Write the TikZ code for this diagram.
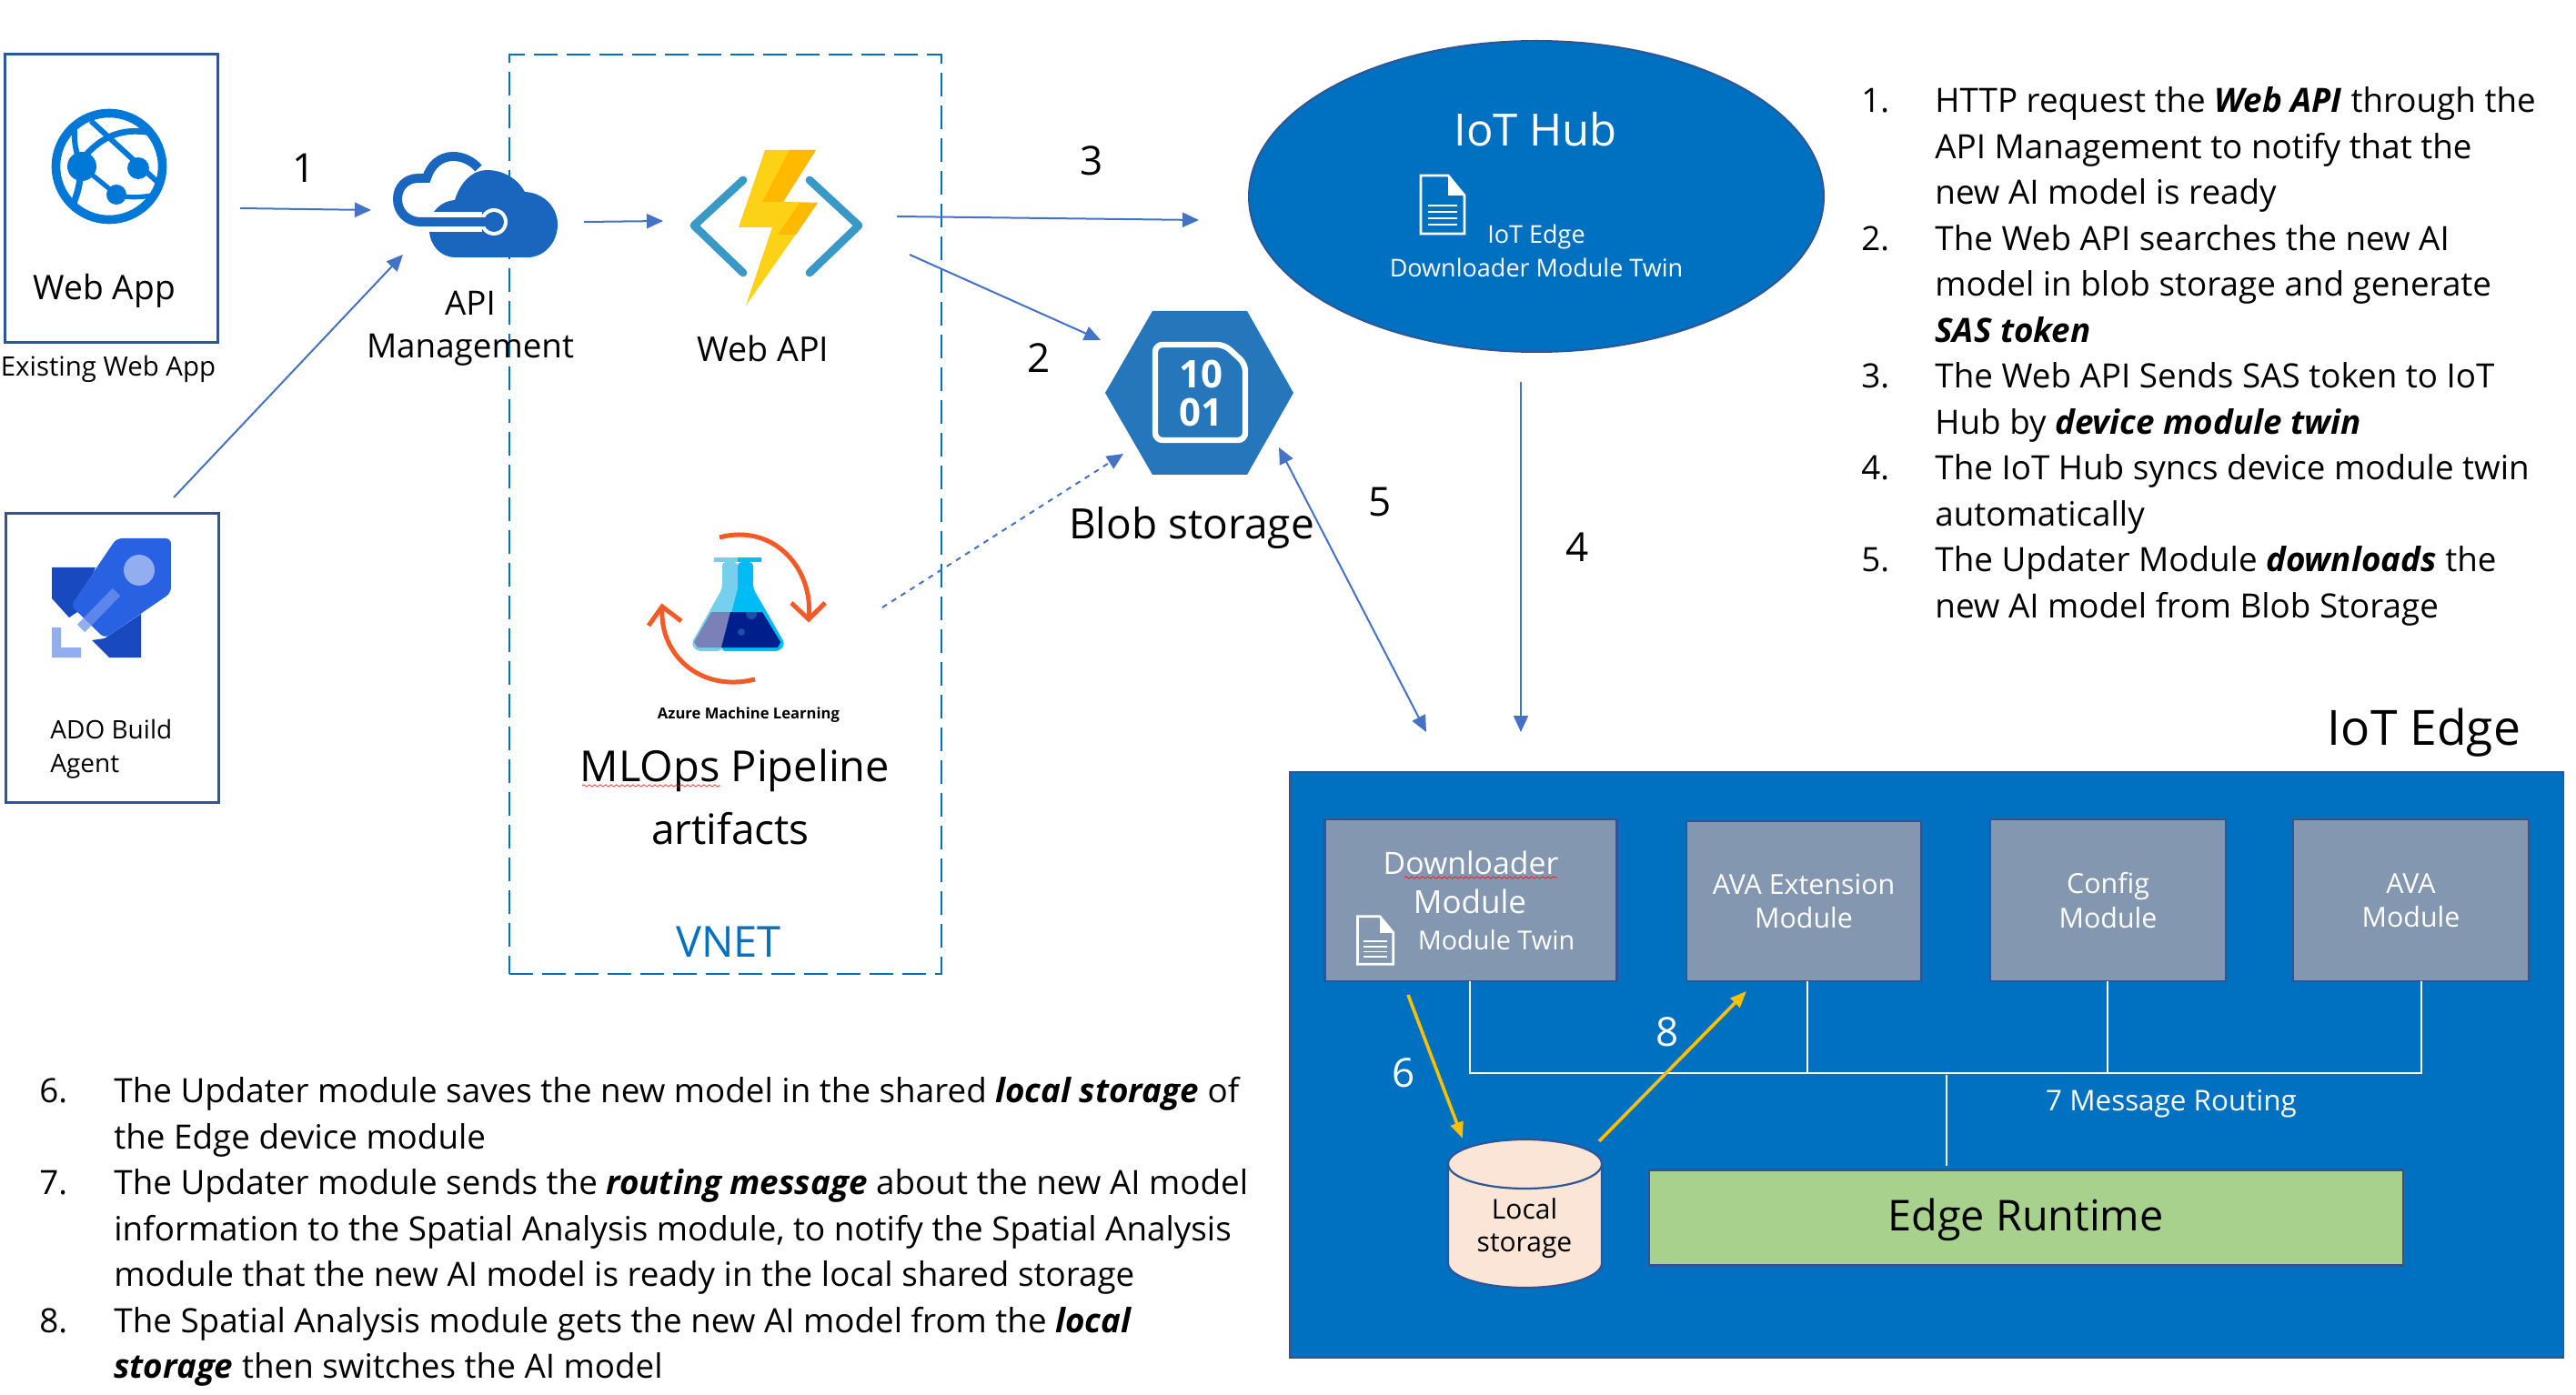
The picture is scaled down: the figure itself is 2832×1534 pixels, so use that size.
\documentclass[tikz,border=0pt]{standalone}
\usepackage{fontspec}
\setmainfont{Open Sans}
\usetikzlibrary{arrows.meta,shapes.geometric,decorations.pathmorphing}
\definecolor{azb}{HTML}{0070C0}
\definecolor{edgeb}{HTML}{2F5597}
\definecolor{arrowb}{HTML}{4472C4}
\definecolor{modg}{HTML}{8497B0}
\definecolor{runtime}{HTML}{A9D18E}
\definecolor{peach}{HTML}{FBE5D6}
\definecolor{goldy}{HTML}{FFC000}
\definecolor{webb}{HTML}{0078D7}
\definecolor{apib}{HTML}{1A66BF}
\definecolor{hexb}{HTML}{2576BB}
\definecolor{chev}{HTML}{3999C6}
\definecolor{orng}{HTML}{F25A28}
\definecolor{rockd}{HTML}{1949BE}
\definecolor{rockm}{HTML}{2862E2}
\definecolor{rockl}{HTML}{93AEF0}
\definecolor{rocks}{HTML}{5C86EC}
\definecolor{flaskl}{HTML}{76CFEC}
\definecolor{flaskm}{HTML}{00BCF2}
\definecolor{liqd}{HTML}{001E8C}
\definecolor{liql}{HTML}{7A80B8}
\definecolor{bubb}{HTML}{1B4FA8}
\newcommand{\tsize}[1]{\fontsize{#1}{#1}\selectfont}
\newcommand{\docglyph}[1]{%
  \begin{scope}[shift={(#1)},x=0.5pt,y=-0.5pt]
   \draw[white,line width=1.4pt,line join=miter] (0,0)--(30,0)--(48,22)--(48,64)--(0,64)--cycle;
   \fill[white] (30,0)--(48,22)--(30,22)--cycle;
   \foreach \yy in {32,39,46,53}{\fill[white] (8,\yy) rectangle (40,\yy+2.4);}
  \end{scope}}
\tikzset{
  x=0.5pt,y=-0.5pt,
  whitebox/.style={draw=edgeb,line width=1.5pt,fill=white,inner sep=0pt,outer sep=0pt},
  modbox/.style={draw=edgeb,line width=1.3pt,fill=modg,inner sep=0pt,outer sep=0pt,text=white,align=center},
  conn/.style={draw=arrowb,line width=1pt,-{Triangle[length=9pt,width=8pt]}},
  gold/.style={draw=goldy,line width=1.8pt,-{Triangle[length=9pt,width=7pt]}},
  bus/.style={draw=white,line width=1.2pt},
  lab/.style={inner sep=0pt,align=center,text=black},
  listl/.style={anchor=base west,inner sep=0pt,font=\tsize{18.4}},
  num/.style={lab,font=\tsize{22}},
  squig/.style={draw=red,line width=0.3pt,decorate,decoration={snake,amplitude=0.6pt,segment length=3pt}},
}
\begin{document}
\begin{tikzpicture}
\useasboundingbox (0,0) rectangle (2832,1534);
\fill[white] (0,0) rectangle (2832,1534);

% left boxes
\node[whitebox,minimum width=117pt,minimum height=158.5pt] (webapp) at (122,218.5) {};
\node[whitebox,minimum width=117pt,minimum height=158.5pt] (ado) at (123,723.5) {};
\node[lab,font=\tsize{18.6}] (webapplab) at (115,320) {Web App};
\node[lab,font=\tsize{14.7}] (existing) at (119,406) {Existing Web App};
\node[lab,font=\tsize{14},align=left,anchor=west] (adolab1) at (55,802) {ADO Build};
\node[lab,font=\tsize{14},align=left,anchor=west] (adolab2) at (55,843) {Agent};

% globe icon
\draw[webb,line width=4.8pt] (120,183) circle (58.5);
\draw[webb,line width=3pt] (100,133) -- (173,200);
\draw[webb,line width=3.4pt] (93,172) .. controls (112,150) and (135,140) .. (166,146);
\draw[webb,line width=3pt] (82,143) .. controls (81,160) and (85,172) .. (90,183);
\draw[webb,line width=3.6pt] (88,195) .. controls (87,208) and (83,218) .. (80,226);
\draw[webb,line width=2.6pt] (90,183) -- (128,214) .. controls (145,219) and (160,216) .. (172,214);
\fill[webb] (90,183) circle (16) (152,185) circle (12) (128,214) circle (11);

% rocket icon
\fill[rockd] (57,624)--(105,624)--(85,673)--(76,679)--(57,658)--cycle;
\fill[rockd] (155,675)--(155,723)--(120,723)--(101,704)--(115,702)--cycle;
\fill[rockm,rounded corners=3pt] (128,592)--(188,592)--(188,652)--(115,702)--(78,666)--cycle;
\fill[rockl] (153,627) circle (17);
\draw[rocks,line width=6pt] (128,651)--(96,684);
\draw[rockl,line width=6pt] (96,684)--(89,691);
\fill[rockl] (57,690)--(67,690)--(67,712)--(89,712)--(89,723)--(57,723)--cycle;

% VNET
\node[draw=azb,line width=1.4pt,dash pattern=on 13pt off 5pt,minimum width=237.5pt,minimum height=505.5pt,inner sep=0pt,outer sep=0pt] (vnet) at (797.5,565.5) {};
\node[lab,font=\tsize{23.5},text=azb] (vnetlab) at (801,1036) {VNET};

% API cloud icon
\draw[apib,line width=5pt] (526,185) .. controls (519,177) and (509,172) .. (498,172) .. controls (484,172) and (473,182) .. (469,196) -- (460,196) .. controls (446,196) and (437,206) .. (437,219) .. controls (437,233) and (448,244) .. (462,244) -- (535,244);
\fill[apib] (477,233) .. controls (483,225) and (490,221) .. (500,220) .. controls (506,200) and (520,187) .. (535,187) .. controls (555,187) and (570,198) .. (577,211) .. controls (598,212) and (613,228) .. (613,247) .. controls (613,267) and (598,283) .. (580,283) -- (500,283) .. controls (485,283) and (473,270) .. (472,255) -- (530,255) -- (530,233) -- cycle;
\fill[white] (476,233) rectangle (530,255);
\fill[white] (543,244) circle (15);
\draw[apib,line width=5pt] (462,244) -- (535,244);
\fill[apib] (543,244) circle (11);
\node[lab,font=\tsize{18.4}] (apilab1) at (517,333) {API};
\node[lab,font=\tsize{18.4}] (apilab2) at (517,385) {Management};

% function icon
\draw[chev,line width=4.4pt,line cap=round,line join=round] (817,198)--(763,248)--(817,300) (890,198)--(944,248)--(890,300);
\fill[color={rgb,255:red,252;green,209;blue,22}] (841,165)--(897,165)--(861,222)--(899,223)--(820,336)--(849,250)--(812,250)--cycle;
\fill[color={rgb,255:red,255;green,185;blue,0}] (868,165)--(897,165)--(861,222)--(899,223)--(875,258)--(855,258)--(880,222)--(838,222)--cycle;
\node[lab,font=\tsize{18.8}] (webapilab) at (839,383) {Web API};

% flask icon
\fill[flaskl] (785,613) rectangle (811,618);
\fill[flaskm] (811,613) rectangle (837,618);
\fill[flaskl,rounded corners=2pt] (794,618)--(811,618)--(811,647)--(793,716)--(766,716)--(760,708)--(794,647)--cycle;
\fill[flaskm,rounded corners=2pt] (811,618)--(828,618)--(828,647)--(863,708)--(857,716)--(793,716)--(811,647)--cycle;
\fill[liql] (782,673)--(803,673)--(793,712)--(767,712)--(763,706)--cycle;
\fill[liqd] (803,673)--(838,673)--(858,706)--(855,712)--(793,712)--cycle;
\fill[bubb] (815,695) circle (4);
\begin{scope}\clip (810,673) rectangle (840,690);\fill[bubb] (826,675) circle (6);\end{scope}
\draw[orng,line width=2.5pt] (791,591) .. controls (850,575) and (895,625) .. (889,680);
\draw[orng,line width=2.5pt] (870,663)--(889,681)--(907,663);
\draw[orng,line width=2.5pt] (830,747) .. controls (770,762) and (725,720) .. (728,669);
\draw[orng,line width=2.5pt] (713,688)--(728,667)--(749,683);
\node[lab,font=\bfseries\tsize{8.3}] (amllab) at (823,786) {Azure Machine Learning};
\node[lab,font=\tsize{23.5}] (mlops) at (808,847) {MLOps Pipeline};
\node[lab,font=\tsize{23}] (artifacts) at (803,911) {artifacts};
\draw[squig] (640,864) -- (792,864);

% Blob storage
\fill[hexb] (1267,342)--(1371,342)--(1422,432)--(1371,522)--(1267,522)--(1215,432)--cycle;
\draw[white,line width=3.2pt,rounded corners=4pt,line join=round] (1270,379)--(1346,379)--(1369,400)--(1369,484)--(1270,484)--cycle;
\node[lab,font=\bfseries\tsize{21},text=white] (blobnum1) at (1320,411) {10};
\node[lab,font=\bfseries\tsize{21},text=white] (blobnum2) at (1320,453) {01};
\node[lab,font=\tsize{23}] (bloblab) at (1310,581) {Blob storage};

% IoT Hub
\node[ellipse,draw=edgeb,line width=1pt,fill=azb,minimum width=316pt,minimum height=171pt,inner sep=0pt,outer sep=0pt] (hub) at (1689,216) {};
\node[lab,font=\tsize{24.5},text=white] (hublab) at (1688,142) {IoT Hub};
\docglyph{1562,193}
\node[lab,font=\tsize{13.5},text=white] (hubl1) at (1689,260) {IoT Edge};
\node[lab,font=\tsize{13.5},text=white] (hubl2) at (1689,294) {Downloader Module Twin};

% IoT Edge
\node[lab,font=\tsize{26.7}] (edgelab) at (2665,806) {IoT Edge};
\node[draw=edgeb,line width=1.4pt,fill=azb,minimum width=700pt,minimum height=322pt,inner sep=0pt,outer sep=0pt] (edge) at (2118,1171) {};
\node[modbox,minimum width=160.5pt,minimum height=89pt] (down) at (1617,990) {};
\node[lab,font=\tsize{16.9},text=white] (downl1) at (1617,949) {Downloader};
\node[lab,font=\tsize{17.5},text=white] (downl2) at (1616,991) {Module};
\node[lab,font=\tsize{14.4},text=white] (downl3) at (1645,1034) {Module Twin};
\draw[squig] (1544,965) -- (1712,965);
\begin{scope}[scale=0.82]\docglyph{1820,1229}\end{scope}
\node[modbox,minimum width=129pt,minimum height=88pt,font=\tsize{15.2}] (avaext) at (1983,991) {AVA Extension\\[3.5pt]Module};
\node[modbox,minimum width=129.5pt,minimum height=89pt,font=\tsize{15.2}] (config) at (2317.5,990) {Config\\[3.5pt]Module};
\node[modbox,minimum width=129.5pt,minimum height=89pt,font=\tsize{15.2}] (ava) at (2650.5,990) {AVA\\[3.5pt]Module};
\node[draw=edgeb,line width=1.3pt,fill=runtime,minimum width=414.5pt,minimum height=52.5pt,inner sep=0pt,outer sep=0pt] (runtimebox) at (2227.5,1339) {};
\node[lab,font=\tsize{23.4}] (runtimelab) at (2227,1341) {Edge Runtime};

% cylinder
\draw[edgeb,line width=1.1pt,fill=peach] (1592,1280) -- (1592,1389) arc[start angle=180,end angle=0,x radius=84.5,y radius=27] -- (1761,1280) arc[start angle=0,end angle=-180,x radius=84.5,y radius=27] -- cycle;
\draw[edgeb,line width=1.1pt] (1592,1280) arc[start angle=180,end angle=0,x radius=84.5,y radius=27];
\node[lab,font=\tsize{15}] (localt1) at (1676,1329) {Local};
\node[lab,font=\tsize{15}] (localt2) at (1676,1370) {storage};

% routing bus
\coordinate (busL) at (1616,1180);
\coordinate (busA) at (1987,1180);
\coordinate (busC) at (2317,1180);
\coordinate (busR) at (2662,1180);
\coordinate (busTop) at (2140,1182);
\coordinate (busBottom) at (2140,1282);
\draw[bus] (1616,1079) -- (busL) -- (busR) -- (2662,1079);
\draw[bus] (1987,1079) -- (busA);
\draw[bus] (2317,1079) -- (busC);
\draw[bus] (busTop) -- (busBottom);
\node[lab,font=\tsize{15.7},text=white] (msg) at (2387,1214) {7 Message Routing};

% connectors
\coordinate (a1s) at (264,229); \coordinate (a1e) at (408,231);
\coordinate (a0s) at (191,547); \coordinate (a0e) at (443,280);
\coordinate (a9s) at (642,244); \coordinate (a9e) at (729,243);
\coordinate (a3s) at (986,238); \coordinate (a3e) at (1318,242);
\coordinate (a2s) at (1000,280); \coordinate (a2e) at (1210,374);
\coordinate (ads) at (970,668); \coordinate (ade) at (1235,499);
\coordinate (a5s) at (1406,492); \coordinate (a5e) at (1568,805);
\coordinate (a4s) at (1672,420); \coordinate (a4e) at (1672,805);
\coordinate (y6s) at (1548,1094); \coordinate (y6e) at (1608,1252);
\coordinate (y8s) at (1758,1255); \coordinate (y8e) at (1920,1090);
\draw[conn] (a1s) -- (a1e);
\draw[conn] (a0s) -- (a0e);
\draw[conn] (a9s) -- (a9e);
\draw[conn] (a3s) -- (a3e);
\draw[conn] (a2s) -- (a2e);
\draw[conn,dashed] (ads) -- (ade);
\draw[conn,{Triangle[length=9pt,width=8pt]}-{Triangle[length=9pt,width=8pt]}] (a5s) -- (a5e);
\draw[conn] (a4s) -- (a4e);
\draw[gold] (y6s) -- (y6e);
\draw[gold] (y8s) -- (y8e);

% numbers
\node[num] (n1) at (334,185) {1};
\node[num] (n2) at (1142,394) {2};
\node[num] (n3) at (1200,177) {3};
\node[num] (n4) at (1734,602) {4};
\node[num] (n5) at (1517,552) {5};
\node[num,text=white] (n6) at (1543,1180) {6};
\node[num,text=white] (n8) at (1833,1135) {8};

% right list
\node[listl] (r1n) at (2046,124) {1.};
\node[listl] (r1a) at (2127,124) {HTTP request the \textbf{\textit{Web API}} through the};
\node[listl] (r1b) at (2127,175) {API Management to notify that the};
\node[listl] (r1c) at (2127,225) {new AI model is ready};
\node[listl] (r2n) at (2046,276) {2.};
\node[listl] (r2a) at (2127,276) {The Web API searches the new AI};
\node[listl] (r2b) at (2127,326) {model in blob storage and generate};
\node[listl] (r2c) at (2127,377) {\textbf{\textit{SAS token}}};
\node[listl] (r3n) at (2046,427) {3.};
\node[listl] (r3a) at (2127,427) {The Web API Sends SAS token to IoT};
\node[listl] (r3b) at (2127,478) {Hub by \textbf{\textit{device module twin}}};
\node[listl] (r4n) at (2046,528) {4.};
\node[listl] (r4a) at (2127,528) {The IoT Hub syncs device module twin};
\node[listl] (r4b) at (2127,579) {automatically};
\node[listl] (r5n) at (2046,629) {5.};
\node[listl] (r5a) at (2127,629) {The Updater Module \textbf{\textit{downloads}} the};
\node[listl] (r5b) at (2127,679) {new AI model from Blob Storage};

% left list
\node[listl] (l6n) at (43,1212) {6.};
\node[listl] (l6a) at (125,1212) {The Updater module saves the new model in the shared \textbf{\textit{local storage}} of};
\node[listl] (l6b) at (125,1263) {the Edge device module};
\node[listl] (l7n) at (43,1313) {7.};
\node[listl] (l7a) at (125,1313) {The Updater module sends the \textbf{\textit{routing message}} about the new AI model};
\node[listl] (l7b) at (125,1364) {information to the Spatial Analysis module, to notify the Spatial Analysis};
\node[listl] (l7c) at (125,1414) {module that the new AI model is ready in the local shared storage};
\node[listl] (l8n) at (43,1465) {8.};
\node[listl] (l8a) at (125,1465) {The Spatial Analysis module gets the new AI model from the \textbf{\textit{local}}};
\node[listl] (l8b) at (125,1515) {\textbf{\textit{storage}} then switches the AI model};
\end{tikzpicture}
\end{document}
